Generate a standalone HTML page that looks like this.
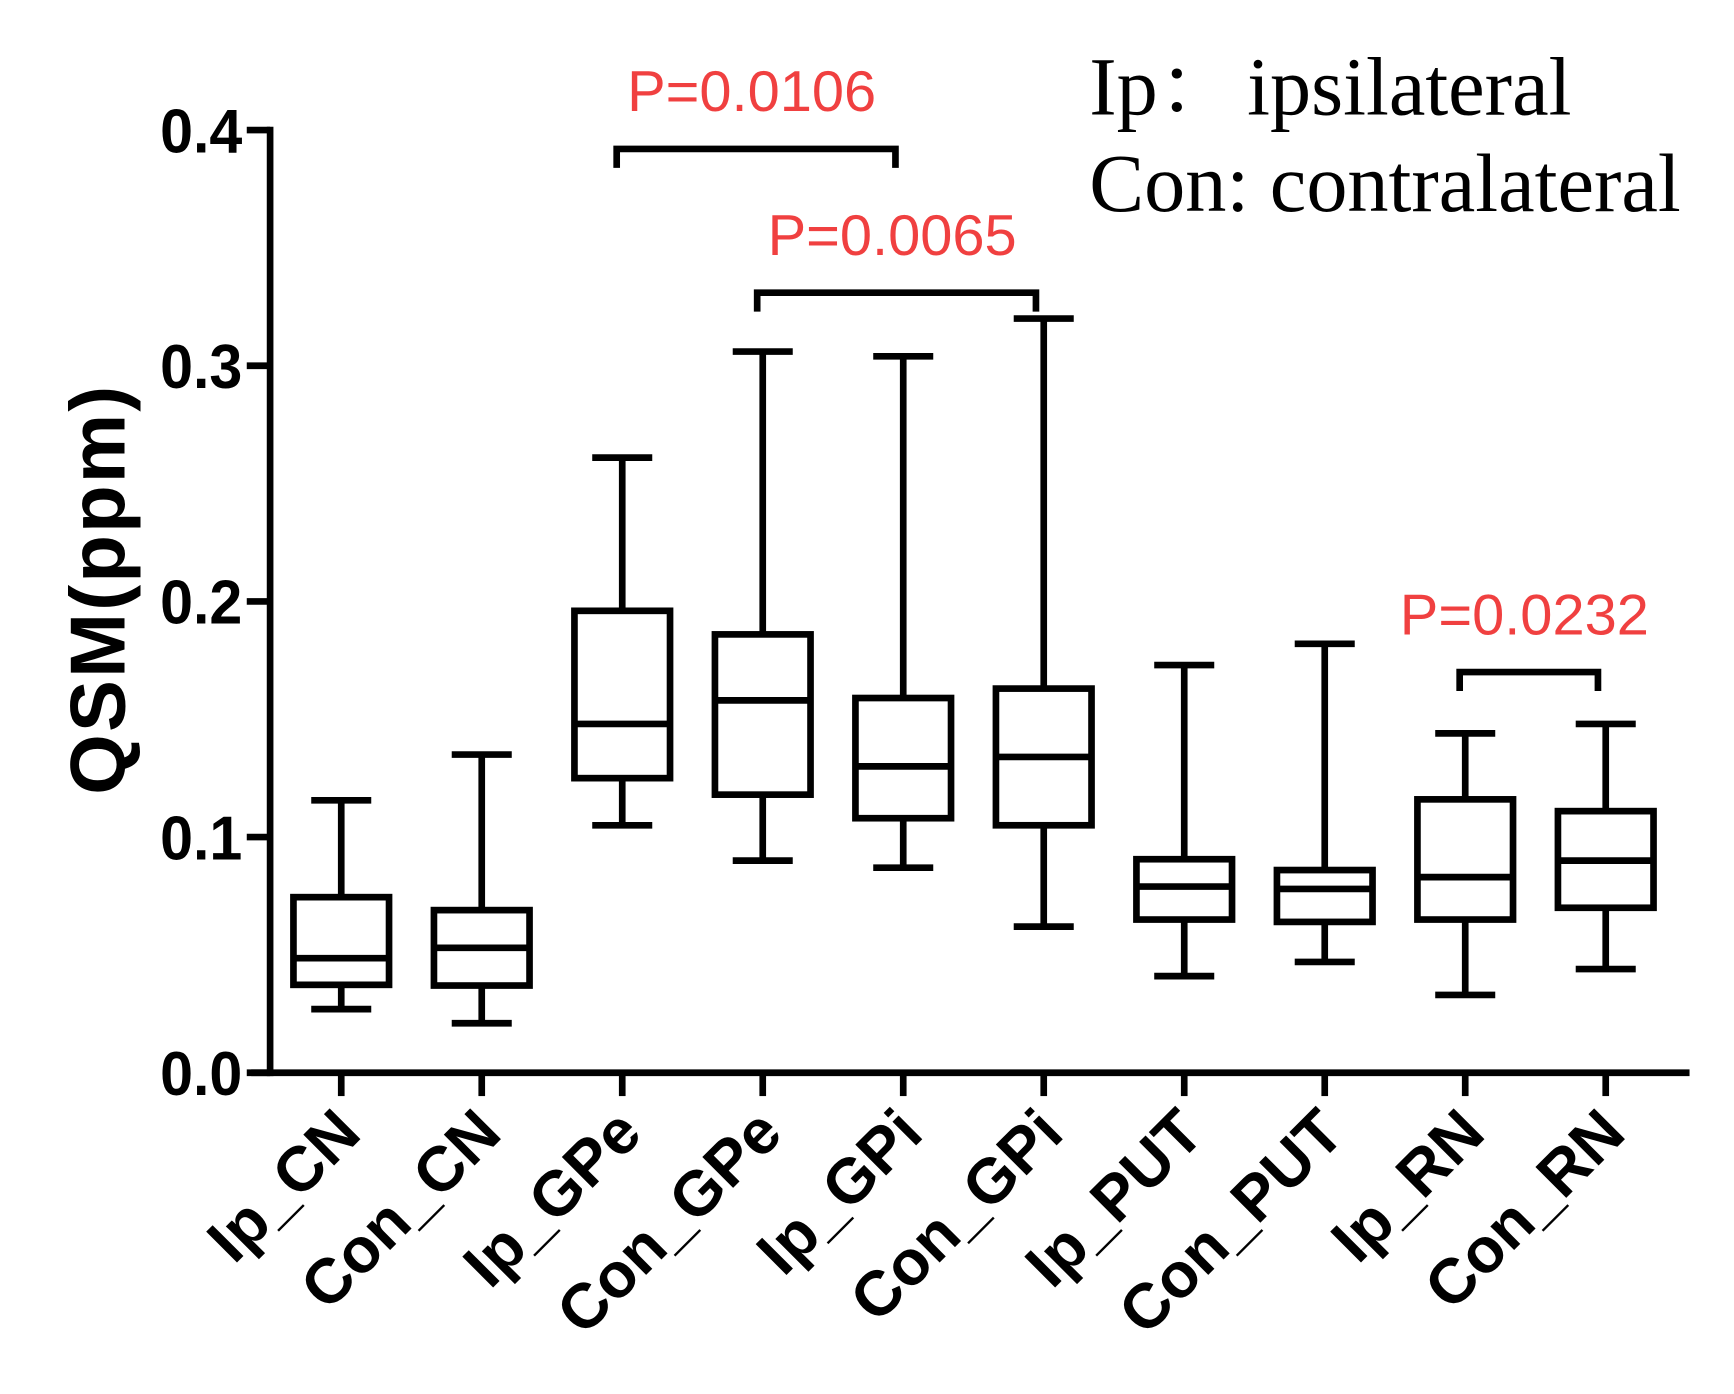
<!DOCTYPE html>
<html><head><meta charset="utf-8"><style>
html,body{margin:0;padding:0;background:#fff;}
svg{display:block;}
</style></head><body>
<svg id="chart" width="1734" height="1394" viewBox="0 0 1560 1254" preserveAspectRatio="none" xmlns="http://www.w3.org/2000/svg">
<rect width="1560" height="1254" fill="#fff"/>
<g id="plot"></g>
<text transform="translate(112,530) rotate(-90)" text-anchor="middle" font-family="Liberation Sans, sans-serif" font-weight="bold" font-size="70" letter-spacing="2">QSM(ppm)</text>
<text x="980" y="103" font-family="Liberation Serif, 'Noto Serif CJK SC', serif" font-size="74">Ip：<tspan x="1122">ipsilateral</tspan></text>
<text x="980" y="190" font-family="Liberation Serif, serif" font-size="74">Con: contralateral</text>
</svg>
<script>
const categories = ["Ip_CN","Con_CN","Ip_GPe","Con_GPe","Ip_GPi","Con_GPi","Ip_PUT","Con_PUT","Ip_RN","Con_RN"];
const whiskerMin = [0.027,0.021,0.105,0.090,0.087,0.062,0.041,0.047,0.033,0.044];
const q1 = [0.0373,0.037,0.125,0.118,0.108,0.105,0.065,0.064,0.065,0.070];
const median = [0.0486,0.053,0.148,0.158,0.130,0.134,0.079,0.078,0.083,0.090];
const q3 = [0.0745,0.069,0.196,0.186,0.159,0.163,0.0906,0.086,0.116,0.111];
const whiskerMax = [0.1156,0.135,0.261,0.306,0.304,0.320,0.173,0.182,0.144,0.148];
const yTicks = [0.0,0.1,0.2,0.3,0.4];
const comparisons = [
  {from:2,to:4,y:0.392,label:"P=0.0106"},
  {from:3,to:5,y:0.331,label:"P=0.0065"},
  {from:8,to:9,y:0.170,label:"P=0.0232"}
];
const NS="http://www.w3.org/2000/svg";
const g=document.getElementById('plot');
const y=v=>965-v*2120;
const x=i=>307+i*126.4;
function el(t,a){const e=document.createElementNS(NS,t);for(const k in a)e.setAttribute(k,a[k]);g.appendChild(e);return e;}
const S={stroke:"#000","stroke-width":6,fill:"none"};
let a=el('line',{x1:243,y1:y(0.4)-3,x2:243,y2:965+3,...S});


a=el('line',{x1:226,y1:965,x2:1520,y2:965,...S});


yTicks.forEach(v=>{
  let t=el('line',{x1:222,y1:y(v),x2:243,y2:y(v),...S});
  
  
  let tx=el('text',{x:218,y:y(v)+20,"text-anchor":"end","font-family":"Liberation Sans, sans-serif","font-weight":"bold","font-size":"56",transform:`translate(218,0) scale(0.95,1) translate(-218,0)`});
  tx.textContent=v.toFixed(1);
  
  
});
categories.forEach((c,i)=>{
  const cx=x(i),bw=43,cw=27;
  let t=el('line',{x1:cx,y1:965,x2:cx,y2:986,...S});
  
  
  const grp=document.createElementNS(NS,'g');g.appendChild(grp);
  
  
  const add=(tt,at)=>{const e=document.createElementNS(NS,tt);for(const k in at)e.setAttribute(k,at[k]);grp.appendChild(e);};
  add('line',{x1:cx,y1:y(whiskerMax[i]),x2:cx,y2:y(q3[i]),...S});
  add('line',{x1:cx,y1:y(q1[i]),x2:cx,y2:y(whiskerMin[i]),...S});
  add('line',{x1:cx-cw,y1:y(whiskerMax[i]),x2:cx+cw,y2:y(whiskerMax[i]),...S});
  add('line',{x1:cx-cw,y1:y(whiskerMin[i]),x2:cx+cw,y2:y(whiskerMin[i]),...S});
  add('rect',{x:cx-bw,y:y(q3[i]),width:2*bw,height:y(q1[i])-y(q3[i]),...S});
  add('line',{x1:cx-bw,y1:y(median[i]),x2:cx+bw,y2:y(median[i]),...S});
  let lb=el('text',{x:0,y:0,"text-anchor":"end","font-family":"Liberation Sans, sans-serif","font-weight":"bold","font-size":"57",transform:`translate(${cx+20},1022) rotate(-45)`});
  lb.textContent=c;
  
  
});
comparisons.forEach(cmp=>{
  const x1=x(cmp.from)-5,x2=x(cmp.to)-7;
  const yy=y(cmp.y);
  let p=el('path',{d:`M${x1},${yy+17} V${yy} H${x2} V${yy+17}`,...S});
  
  
  let t=el('text',{x:(x1+x2)/2-4,y:yy-34,"text-anchor":"middle","font-family":"Liberation Sans, sans-serif","font-size":"52",fill:"#f04040"});
  t.textContent=cmp.label;
  
  
});
</script>
</body></html>
